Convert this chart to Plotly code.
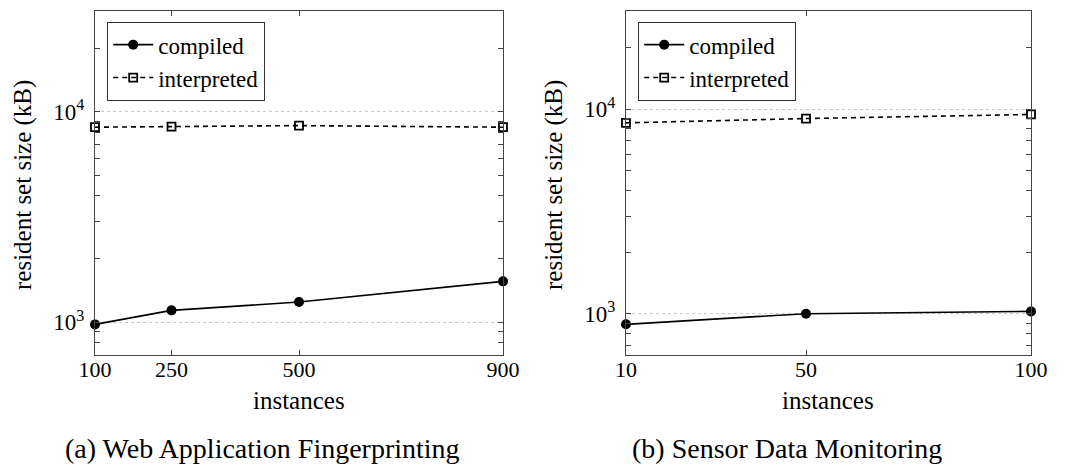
import math
import plotly.graph_objects as go

# ---- data ----
web_instances = [100, 250, 500, 900]
web_compiled = [978, 1140, 1248, 1565]
web_interpreted = [8430, 8490, 8580, 8430]

sensor_instances = [10, 50, 100]
sensor_compiled = [887, 1000, 1026]
sensor_interpreted = [8570, 9000, 9420]

major_y = [1000, 10000]
major_y_text = ["10<sup>3</sup>", "10<sup>4</sup>"]
minor_y = [700, 800, 900, 2000, 3000, 4000, 5000, 6000, 7000, 8000, 9000, 20000]

captions = ["(a) Web Application Fingerprinting", "(b) Sensor Data Monitoring"]
series_names = ["compiled", "interpreted"]

FONT = "Liberation Serif"
W, H = 1066, 468

fig = go.Figure()

def add_pair(xs, comp, interp, xa, ya, legend):
    fig.add_trace(go.Scatter(
        x=xs, y=comp, name=series_names[0], mode="lines+markers",
        line=dict(color="black", width=1.6),
        marker=dict(symbol="circle", size=10, color="black"),
        xaxis=xa, yaxis=ya, legend=legend, cliponaxis=False))
    fig.add_trace(go.Scatter(
        x=xs, y=interp, name=series_names[1], mode="lines+markers",
        line=dict(color="black", width=1.6, dash="5px,4px"),
        marker=dict(symbol="square-open", size=8, color="black", line=dict(width=1.8)),
        xaxis=xa, yaxis=ya, legend=legend, cliponaxis=False))

add_pair(web_instances, web_compiled, web_interpreted, "x", "y", "legend")
add_pair(sensor_instances, sensor_compiled, sensor_interpreted, "x2", "y2", "legend2")

ydom = [1 - 355 / H, 1 - 11 / H]
axcol = "#444444"

def xaxis_cfg(dom, vals, rng, anchor):
    return dict(domain=dom, range=rng, anchor=anchor, automargin=False,
                tickmode="array", tickvals=vals,
                ticktext=[str(v) for v in vals], ticks="inside", ticklen=5,
                tickcolor=axcol, showline=True, linecolor=axcol, linewidth=1.2,
                mirror="allticks", showgrid=False, zeroline=False,
                ticklabelstandoff=-6,
                tickfont=dict(family=FONT, size=22, color="black"))

def yaxis_cfg(anchor, rng):
    return dict(domain=ydom, type="log", range=rng, anchor=anchor, automargin=False,
                tickmode="array", tickvals=major_y, ticktext=major_y_text,
                ticks="inside", ticklen=5, tickcolor=axcol,
                showline=True, linecolor=axcol, linewidth=1.2, mirror="allticks",
                showgrid=True, gridcolor="#c8c8c8", griddash="dot", gridwidth=1,
                zeroline=False, ticklabelstandoff=5,
                minor=dict(tickmode="array", tickvals=minor_y, ticks="inside",
                           ticklen=5, tickcolor=axcol, showgrid=False),
                tickfont=dict(family=FONT, size=23, color="black"))

legend_common = dict(yanchor="top", xanchor="left", bordercolor="#333333",
                     borderwidth=1.2, bgcolor="white",
                     font=dict(family=FONT, size=23), itemwidth=40, tracegroupgap=0)

fig.update_layout(
    width=W, height=H,
    margin=dict(l=0, r=0, t=0, b=0, pad=0),
    paper_bgcolor="white", plot_bgcolor="white",
    font=dict(family=FONT, color="black"),
    xaxis=xaxis_cfg([95 / W, 503 / W], web_instances, [100, 900], "y"),
    yaxis=yaxis_cfg("x", [math.log10(700), math.log10(30000)]),
    xaxis2=xaxis_cfg([626 / W, 1031 / W], sensor_instances, [10, 100], "y2"),
    yaxis2=yaxis_cfg("x2", [math.log10(628), math.log10(30200)]),
    legend=dict(x=107 / W, y=1 - 22 / H, **legend_common),
    legend2=dict(x=638 / W, y=1 - 22 / H, **legend_common),
    showlegend=True,
)

annots = []
def label(text, x, y, size, angle=0):
    annots.append(dict(text=text, x=x / W, y=1 - y / H, xref="paper", yref="paper",
                       xanchor="center", yanchor="middle", showarrow=False,
                       textangle=angle, font=dict(family=FONT, size=size)))

for cx in [299, 828]:
    label("instances", cx, 400, 25)
for cx in [23, 554]:
    label("resident set size (kB)", cx, 185, 25, -90)
for cx, txt in zip([262, 787], captions):
    label(txt, cx, 448, 28)
fig.update_layout(annotations=annots)

fig.write_html("out.html")
